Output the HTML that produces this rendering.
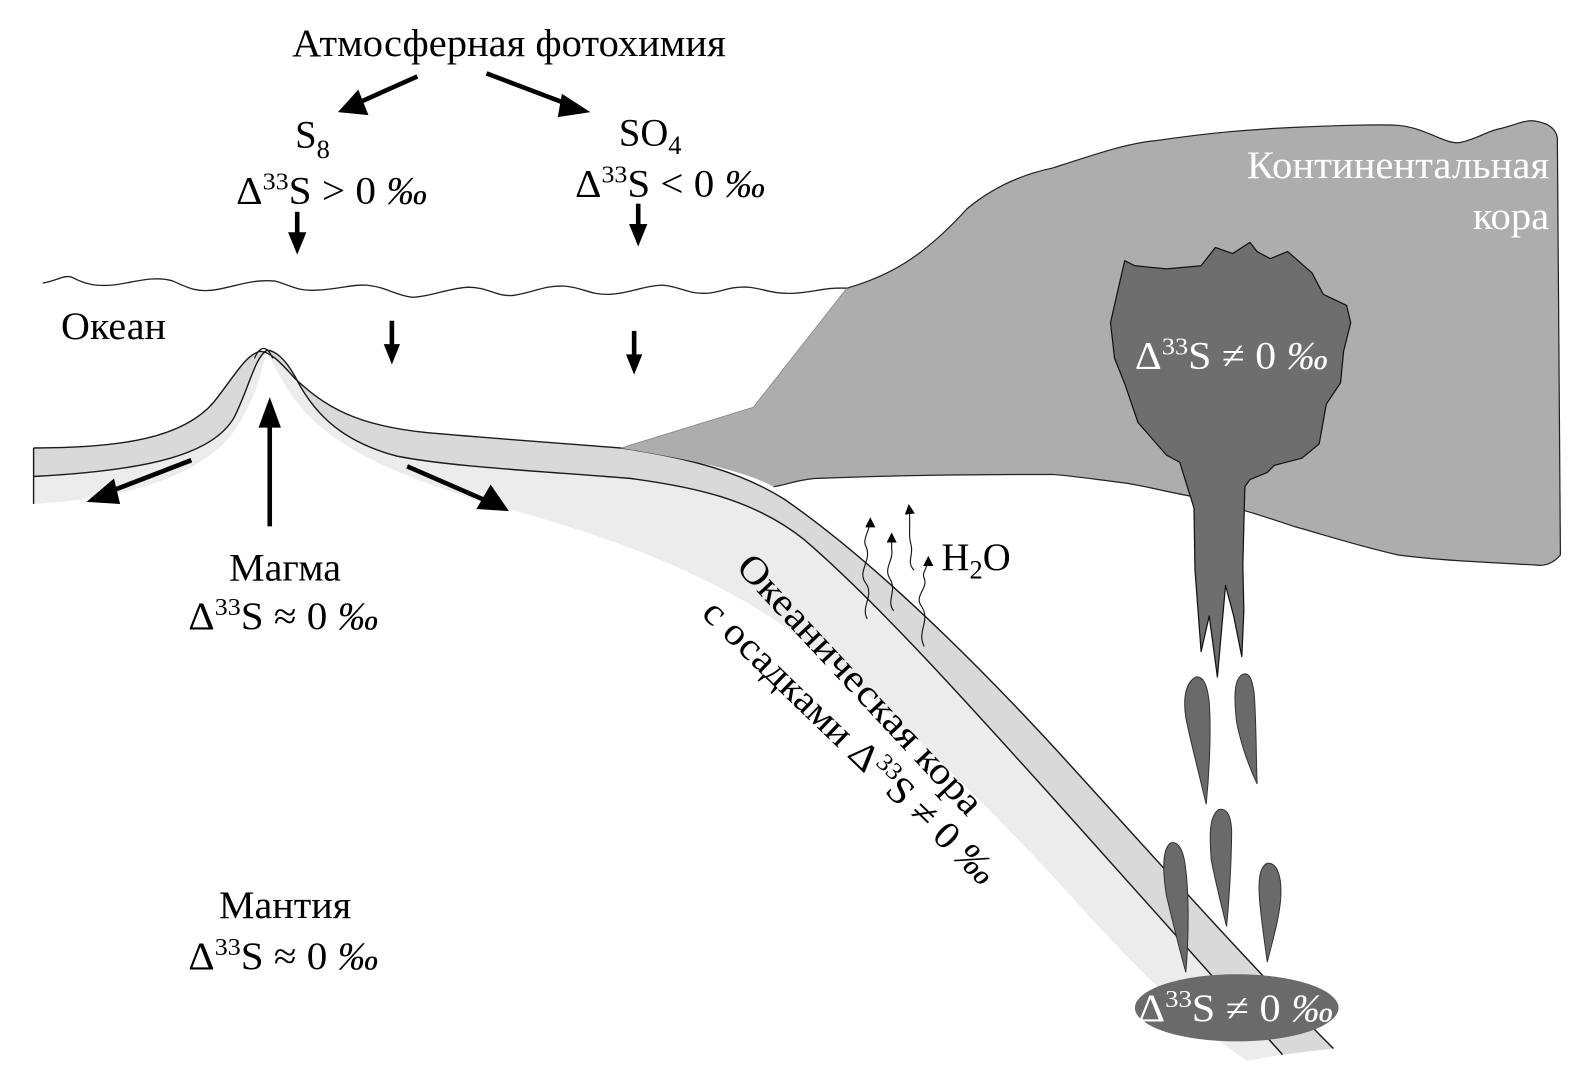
<!DOCTYPE html>
<html><head><meta charset="utf-8"><style>
html,body{margin:0;padding:0;background:#fff;}
svg{display:block;}
text{font-family:"Liberation Serif",serif;}
</style></head><body>
<svg width="1594" height="1069" viewBox="0 0 1566 1050" xmlns="http://www.w3.org/2000/svg">
<defs>
<marker id="ah" markerWidth="10" markerHeight="10" refX="8" refY="5" orient="auto" markerUnits="userSpaceOnUse" viewBox="0 0 10 10"><path d="M0,0 L10,5 L0,10 z" fill="#000"/></marker>
</defs>
<rect x="0" y="0" width="1566" height="1050" fill="#fff"/>

<!-- lower light band -->
<path d="M262,344 C270,360 282,388 305,410 C345,450 420,478 500,500 C600,528 690,560 770,615 C870,690 990,810 1070,900 C1130,965 1180,1012 1225,1042 L1260,1036 C1200,970 1120,880 1040,790 C950,690 860,590 790,530 C740,490 680,478 620,470 C520,462 440,458 390,448 C340,435 310,410 290,370 C280,352 270,344 262,344 Z" fill="#ececec"/>
<path d="M33,468 L33,495 C120,490 190,470 225,430 C245,405 255,375 262,344 C250,352 245,380 230,410 C210,445 150,462 33,468 Z" fill="#ececec"/>

<!-- upper band -->
<path d="M33,440 C120,440 180,430 210,395 C230,370 240,350 255,345 C265,345 275,355 290,372 C320,400 350,418 420,425 C500,432 560,436 610,440 C680,450 730,465 770,490 C850,545 950,640 1050,750 C1150,860 1230,950 1310,1030 L1260,1036 C1200,970 1120,880 1040,790 C950,690 860,590 790,530 C740,490 680,478 620,470 C520,462 440,458 390,448 C340,435 310,410 290,370 C280,352 270,344 262,344 C250,352 245,380 230,410 C210,445 150,462 33,468 Z" fill="#d9d9d9"/>

<!-- slab lines -->
<g fill="none" stroke="#1a1a1a" stroke-width="1.4">
<path d="M33,440 C120,440 180,430 210,395 C230,370 240,350 255,345 C265,345 275,355 290,372 C320,400 350,418 420,425 C500,432 560,436 610,440 C680,450 730,465 770,490 C850,545 950,640 1050,750 C1150,860 1230,950 1310,1030"/>
<path d="M33,468 C150,462 210,445 230,410 C245,380 250,352 262,344 C270,344 280,352 290,370 C310,410 340,435 390,448 C440,458 520,462 620,470 C680,478 740,490 790,530 C860,590 950,690 1040,790 C1120,880 1200,970 1260,1036"/>
<path d="M33,440 L33,495"/>
<path d="M250,352 C255,340 262,338 268,352" stroke-width="1.2"/>
</g>

<!-- water surface -->
<path d="M42,278 C55,276 62,270 70,272 C85,280 95,281 110,280 C130,278 150,270 170,276 C185,283 195,288 215,284 C235,280 250,274 270,276 C285,280 292,286 310,285 C335,284 345,279 360,280 C380,282 388,290 405,292 C425,291 440,283 460,282 C480,282 488,292 505,290 C525,287 535,280 555,281 C575,283 580,290 600,289 C620,288 630,281 650,280 C668,281 675,289 695,288 C710,287 715,281 735,282 C752,284 760,289 780,288 C800,287 810,282 832,283" fill="none" stroke="#222" stroke-width="1.3"/>

<!-- continental crust -->
<path d="M832,283 C870,272 905,255 950,205 C980,180 1010,170 1034,165 C1080,150 1110,140 1136,138 C1190,130 1230,127 1271,125 C1320,123 1350,122 1373,123 C1400,125 1420,142 1434,140 C1450,137 1462,128 1475,126 C1490,122 1500,117 1509,119 C1520,121 1528,125 1530,135 L1533,545 C1525,555 1515,556 1509,555 C1450,552 1410,550 1373,545 C1330,535 1300,525 1271,517 C1250,510 1235,505 1224,502 C1200,495 1190,490 1173,488 C1140,482 1120,476 1102,474 C1070,470 1050,467 1034,466 C960,466 870,467 800,470 C780,472 770,477 760,478 C730,462 680,452 610,440 L740,400 Z" fill="#adadad"/>
<path d="M832,283 C870,272 905,255 950,205 C980,180 1010,170 1034,165 C1080,150 1110,140 1136,138 C1190,130 1230,127 1271,125 C1320,123 1350,122 1373,123 C1400,125 1420,142 1434,140 C1450,137 1462,128 1475,126 C1490,122 1500,117 1509,119 C1520,121 1528,125 1530,135 L1533,545 C1525,555 1515,556 1509,555 C1450,552 1410,550 1373,545 C1330,535 1300,525 1271,517 C1250,510 1235,505 1224,502 C1200,495 1190,490 1173,488 C1140,482 1120,476 1102,474 C1070,470 1050,467 1034,466 C960,466 870,467 800,470 C780,472 770,477 760,478" fill="none" stroke="#222" stroke-width="1.2"/>
<path d="M610,440 L740,400 L832,283" fill="none" stroke="#888" stroke-width="0.8"/>

<!-- pluton -->
<path d="M1105,256 L1115,261 L1146,264 L1180,261 L1194,243 L1211,249 L1228,238 L1235,247 L1248,254 L1265,247 L1289,268 L1300,289 L1323,300 L1327,317 L1320,345 L1317,376 L1303,397 L1296,436 L1279,450 L1252,457 L1245,464 L1228,471 L1223,478 L1221,555 L1222,600 L1220,645 L1212,605 L1204,575 L1196,665 L1188,605 L1180,640 L1174,560 L1173,499 L1159,454 L1146,447 L1118,415 L1105,377 L1095,352 L1091,317 L1098,286 Z" fill="#6e6e6e" stroke="#111" stroke-width="1.2" stroke-linejoin="round"/>

<!-- droplets -->
<g fill="#6a6a6a" stroke="#333" stroke-width="1">
<path d="M1175,665 C1165,670 1162,685 1165,705 C1170,730 1178,760 1185,790 C1188,760 1190,720 1188,690 C1186,672 1182,664 1175,665 Z"/>
<path d="M1222,662 C1212,665 1212,685 1215,710 C1220,735 1228,755 1235,770 C1234,740 1234,700 1232,680 C1230,668 1228,661 1222,662 Z"/>
<path d="M1198,795 C1188,800 1188,820 1190,845 C1195,870 1200,890 1205,910 C1208,880 1210,840 1210,815 C1209,800 1205,794 1198,795 Z"/>
<path d="M1150,828 C1142,834 1142,855 1146,880 C1152,905 1158,930 1165,955 C1168,920 1168,880 1165,855 C1163,835 1158,826 1150,828 Z"/>
<path d="M1245,848 C1236,852 1236,870 1238,890 C1240,910 1243,930 1245,945 C1250,925 1256,905 1258,885 C1260,862 1255,847 1245,848 Z"/>
</g>
<ellipse cx="1215" cy="990" rx="100" ry="33" fill="#6a6a6a"/>

<!-- H2O wavy arrows -->
<g fill="none" stroke="#111" stroke-width="1.1" marker-end="url(#ah)">
<path d="M852,608 C845,595 860,585 850,572 C842,560 858,550 850,535 C848,528 855,520 855,510"/>
<path d="M878,600 C870,590 882,580 874,568 C868,558 878,550 876,540 L876,525"/>
<path d="M908,635 C900,620 915,610 905,595 C898,585 912,578 908,568 C905,562 912,558 912,548"/>
<path d="M898,560 C890,552 898,545 895,535 C892,525 895,515 893,497"/>
</g>

<!-- arrows -->
<g stroke="#000" stroke-width="4.5" fill="none">
<line x1="410" y1="75" x2="345" y2="104"/>
<line x1="478" y1="72" x2="565" y2="105"/>
<line x1="292" y1="208" x2="292" y2="235"/>
<line x1="627" y1="200" x2="627" y2="228"/>
<line x1="385" y1="315" x2="385" y2="345"/>
<line x1="623" y1="325" x2="623" y2="355"/>
<line x1="265" y1="517" x2="265" y2="410"/>
<line x1="188" y1="452" x2="105" y2="484"/>
<line x1="400" y1="458" x2="478" y2="492"/>
</g>
<g fill="#000">
<polygon points="332,110 352,88 362,113"/>
<polygon points="580,110 552,92 548,115"/>
<polygon points="292,250 283,228 301,228"/>
<polygon points="627,242 618,220 636,220"/>
<polygon points="385,358 377,338 393,338"/>
<polygon points="623,368 615,348 631,348"/>
<polygon points="265,390 254,420 276,420"/>
<polygon points="85,493 112,470 118,495"/>
<polygon points="500,502 468,500 482,476"/>
</g>

<!-- labels -->
<g font-size="38" fill="#000">
<text x="287" y="55" textLength="426" lengthAdjust="spacingAndGlyphs">Атмосферная фотохимия</text>
<text x="290" y="145" font-size="38">S<tspan font-size="26" dy="10">8</tspan></text>
<text x="608" y="143" font-size="38">SO<tspan font-size="26" dy="8">4</tspan></text>
<text x="232" y="200" textLength="188" lengthAdjust="spacingAndGlyphs">Δ<tspan font-size="24" dy="-14">33</tspan><tspan dy="14">S &gt; 0 <tspan font-style="italic">‰</tspan></tspan></text>
<text x="565" y="193" textLength="187" lengthAdjust="spacingAndGlyphs">Δ<tspan font-size="24" dy="-14">33</tspan><tspan dy="14">S &lt; 0 <tspan font-style="italic">‰</tspan></tspan></text>
<text x="60" y="333" textLength="103" lengthAdjust="spacingAndGlyphs">Океан</text>
<text x="225" y="570" textLength="110" lengthAdjust="spacingAndGlyphs">Магма</text>
<text x="185" y="618" textLength="187" lengthAdjust="spacingAndGlyphs">Δ<tspan font-size="24" dy="-14">33</tspan><tspan dy="14">S ≈ 0 <tspan font-style="italic">‰</tspan></tspan></text>
<text x="215" y="902" textLength="130" lengthAdjust="spacingAndGlyphs">Мантия</text>
<text x="185" y="952" textLength="187" lengthAdjust="spacingAndGlyphs">Δ<tspan font-size="24" dy="-14">33</tspan><tspan dy="14">S ≈ 0 <tspan font-style="italic">‰</tspan></tspan></text>
<text x="925" y="560">H<tspan font-size="26" dy="8">2</tspan><tspan dy="-8">O</tspan></text>
</g>
<g font-size="38" fill="#fff">
<text x="1225" y="175" textLength="297" lengthAdjust="spacingAndGlyphs">Континентальная</text>
<text x="1447" y="225" textLength="75" lengthAdjust="spacingAndGlyphs">кора</text>
<text x="1115" y="362" textLength="190" lengthAdjust="spacingAndGlyphs">Δ<tspan font-size="24" dy="-14">33</tspan><tspan dy="14">S ≠ 0 <tspan font-style="italic">‰</tspan></tspan></text>
<text x="1118" y="1003" textLength="192" lengthAdjust="spacingAndGlyphs">Δ<tspan font-size="24" dy="-14">33</tspan><tspan dy="14">S ≠ 0 <tspan font-style="italic">‰</tspan></tspan></text>
</g>
<g font-size="38" fill="#000">
<text transform="translate(722,558) rotate(47)" textLength="335" lengthAdjust="spacingAndGlyphs">Океаническая кора</text>
<text transform="translate(688,604) rotate(44)" textLength="385" lengthAdjust="spacingAndGlyphs">с осадками Δ<tspan font-size="24" dy="-14">33</tspan><tspan dy="14">S ≠ 0 <tspan font-style="italic">‰</tspan></tspan></text>
</g>
</svg>
</body></html>
